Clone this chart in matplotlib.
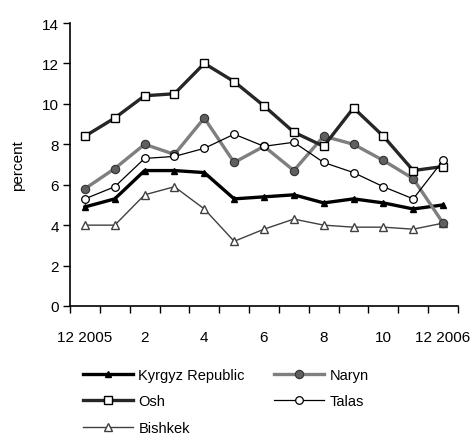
import matplotlib
matplotlib.use("Agg")
import matplotlib.pyplot as plt
import numpy as np

plt.rcParams["font.family"] = ["Liberation Sans", "DejaVu Sans"]

MONTHS = ["12 2005", "1", "2", "3", "4", "5", "6", "7", "8", "9", "10", "11", "12 2006"]
SHOWN_LABELS = ["12 2005", "2", "4", "6", "8", "10", "12 2006"]

kyrgyz  = [4.9, 5.3, 6.7, 6.7, 6.6, 5.3, 5.4, 5.5, 5.1, 5.3, 5.1, 4.8, 5.0]
naryn   = [5.8, 6.8, 8.0, 7.5, 9.3, 7.1, 7.9, 6.7, 8.4, 8.0, 7.2, 6.3, 4.1]
osh     = [8.4, 9.3, 10.4, 10.5, 12.0, 11.1, 9.9, 8.6, 7.9, 9.8, 8.4, 6.7, 6.9]
talas   = [5.3, 5.9, 7.3, 7.4, 7.8, 8.5, 7.9, 8.1, 7.1, 6.6, 5.9, 5.3, 7.2]
bishkek = [4.0, 4.0, 5.5, 5.9, 4.8, 3.2, 3.8, 4.3, 4.0, 3.9, 3.9, 3.8, 4.1]

x = np.arange(len(MONTHS))

fig = plt.figure(figsize=(4.7, 4.39), dpi=100)
ax = fig.add_axes([70 / 470, 1 - 307 / 439, 388 / 470, 283 / 439])

h_kg, = ax.plot(x, kyrgyz, color="black", lw=2.4, marker="^", ms=5,
                mfc="black", mec="black", label="Kyrgyz Republic", zorder=3)
h_na, = ax.plot(x, naryn, color="#7f7f7f", lw=2.4, marker="o", ms=6,
                mfc="#5f5f5f", mec="#333333", mew=0.8, label="Naryn", zorder=4)
h_os, = ax.plot(x, osh, color="#262626", lw=2.4, marker="s", ms=6,
                mfc="white", mec="black", mew=1.0, label="Osh", zorder=5)
h_ta, = ax.plot(x, talas, color="black", lw=0.9, marker="o", ms=5.5,
                mfc="white", mec="black", mew=0.9, label="Talas", zorder=6)
h_bi, = ax.plot(x, bishkek, color="#404040", lw=1.0, marker="^", ms=6,
                mfc="white", mec="#404040", mew=1.0, label="Bishkek", zorder=3)

ax.set_xlim(-0.5, len(MONTHS) - 0.5)
ax.set_ylim(0, 14)
ax.set_yticks(np.arange(0, 15, 2))
ax.tick_params(axis="y", direction="out", length=5, width=1, pad=3, labelsize=11)

# boundary ticks (no labels) + label positions (no tick marks)
ax.set_xticks(np.arange(-0.5, len(MONTHS), 1.0))
ax.set_xticklabels([])
ax.set_xticks([MONTHS.index(m) for m in SHOWN_LABELS], minor=True)
ax.set_xticklabels(SHOWN_LABELS, minor=True)
ax.tick_params(axis="x", which="major", direction="out", length=5, width=1)
ax.tick_params(axis="x", which="minor", length=0, pad=17, labelsize=11)

for s in ["top", "right"]:
    ax.spines[s].set_visible(False)
for s in ["left", "bottom"]:
    ax.spines[s].set_linewidth(1.2)

ax.set_ylabel("percent", fontsize=11, labelpad=12)

handles = [h_kg, h_os, h_bi, h_na, h_ta]
fig.legend(handles=handles, labels=[h.get_label() for h in handles],
           ncol=2, loc="upper left", bbox_to_anchor=(83 / 470, 1 - 369 / 439),
           frameon=False, fontsize=10.5, handlelength=3.4, handletextpad=0.4,
           columnspacing=2.0, labelspacing=0.85, borderaxespad=0, borderpad=0)

fig.savefig("out.png", dpi=100)
